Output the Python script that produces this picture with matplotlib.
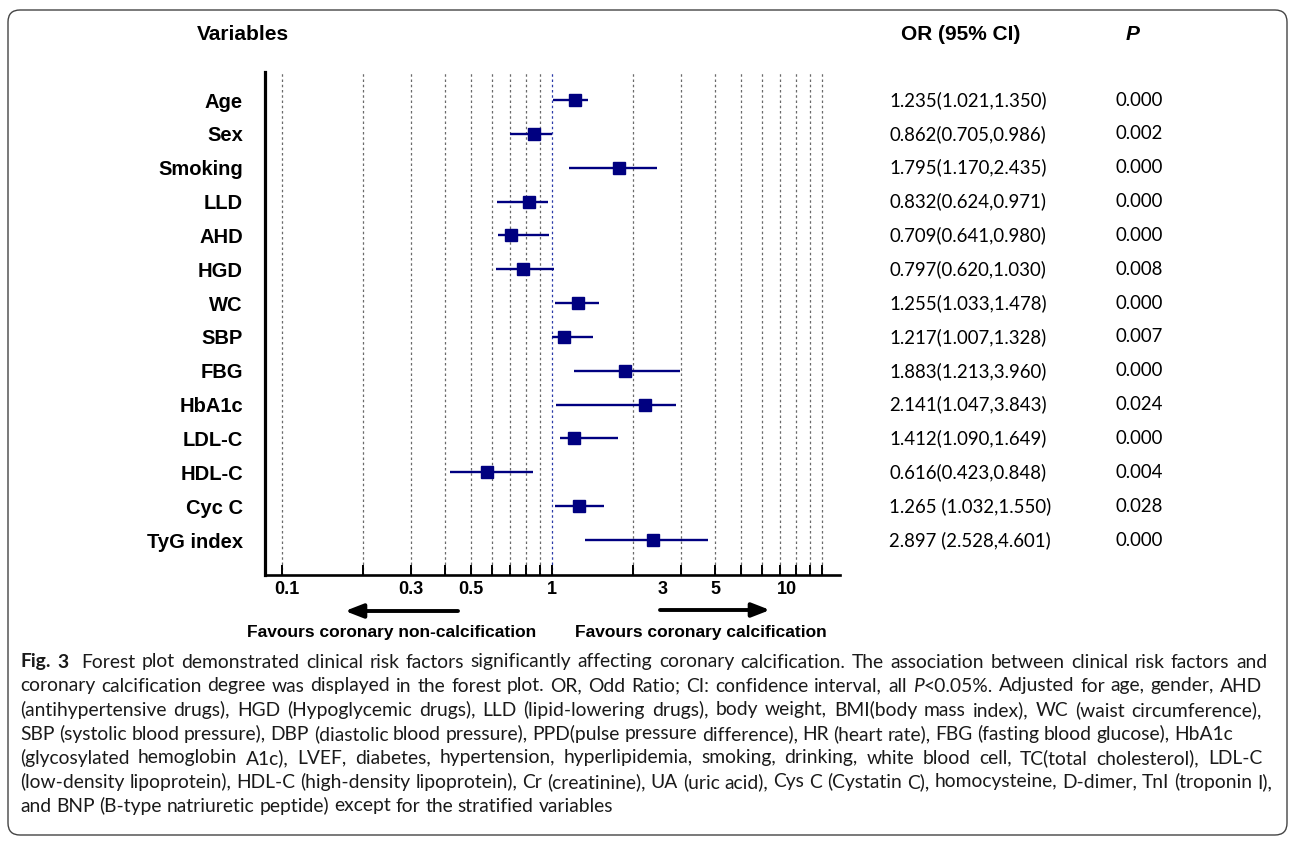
import matplotlib
matplotlib.use("Agg")
import matplotlib.pyplot as plt
import numpy as np
from matplotlib.patches import FancyBboxPatch
from matplotlib.ticker import NullLocator
from matplotlib.transforms import blended_transform_factory, offset_copy

# ---------------- data ----------------
variables = ["Age", "Sex", "Smoking", "LLD", "AHD", "HGD", "WC", "SBP", "FBG",
             "HbA1c", "LDL-C", "HDL-C", "Cyc C", "TyG index"]
# values as drawn in the picture (point estimate, lower, upper)
or_est = [1.22, 0.858, 1.77, 0.822, 0.703, 0.778, 1.244, 1.11, 1.87, 2.21, 1.208, 0.575, 1.26, 2.37]
ci_low = [1.01, 0.70, 1.158, 0.623, 0.629, 0.618, 1.023, 1.00, 1.208, 1.033, 1.074, 0.419, 1.023, 1.323]
ci_high = [1.36, 1.00, 2.456, 0.965, 0.971, 1.02, 1.493, 1.42, 2.99, 2.89, 1.763, 0.853, 1.557, 3.78]
or_text = ["1.235(1.021,1.350)", "0.862(0.705,0.986)", "1.795(1.170,2.435)",
           "0.832(0.624,0.971)", "0.709(0.641,0.980)", "0.797(0.620,1.030)",
           "1.255(1.033,1.478)", "1.217(1.007,1.328)", "1.883(1.213,3.960)",
           "2.141(1.047,3.843)", "1.412(1.090,1.649)", "0.616(0.423,0.848)",
           "1.265 (1.032,1.550)", "2.897 (2.528,4.601)"]
p_text = ["0.000", "0.002", "0.000", "0.000", "0.000", "0.008", "0.000",
          "0.007", "0.000", "0.024", "0.000", "0.004", "0.028", "0.000"]
grid_vals = [0.1, 0.2, 0.3, 0.4, 0.5, 0.6, 0.7, 0.8, 0.9, 1,
             2, 3, 4, 5, 6, 7, 8, 9, 10]
tick_vals = [0.1, 0.3, 0.5, 1, 3, 5, 10]
tick_labels = ["0.1", "0.3", "0.5", "1", "3", "5", "10"]

caption_lines = [
    [("Fig. 3", "bold"), ("  ", None), ("Forest plot demonstrated clinical risk factors significantly affecting coronary calcification. The association between clinical risk factors and", "normal")],
    [("coronary calcification degree was displayed in the forest plot. OR, Odd Ratio; CI: confidence interval, all", "normal"), (" ", None), ("P", "italic"), ("<0.05%. Adjusted for age, gender, AHD", "normal")],
    [("(antihypertensive drugs), HGD (Hypoglycemic drugs), LLD (lipid-lowering drugs), body weight, BMI(body mass index), WC (waist circumference),", "normal")],
    [("SBP (systolic blood pressure), DBP (diastolic blood pressure), PPD(pulse pressure difference), HR (heart rate), FBG (fasting blood glucose), HbA1c", "normal")],
    [("(glycosylated hemoglobin A1c), LVEF, diabetes, hypertension, hyperlipidemia, smoking, drinking, white blood cell, TC(total cholesterol), LDL-C", "normal")],
    [("(low-density lipoprotein), HDL-C (high-density lipoprotein), Cr (creatinine), UA (uric acid), Cys C (Cystatin C), homocysteine, D-dimer, TnI (troponin I),", "normal")],
    [("and BNP (B-type natriuretic peptide) except for the stratified variables", "normal")],
]
caption_right_px = [1267, 1262, 1262, 1233, 1262, 1272, None]

# ---------------- layout ----------------
W, H = 1295, 841
fig = plt.figure(figsize=(W / 100, H / 100), dpi=100)
renderer = fig.canvas.get_renderer()


def fx(px):
    return px / W


def fy(py):
    return 1 - py / H


ARIAL = "Liberation Sans"
MYRIAD = "Lato"
NAVY = "#000080"

ax = fig.add_axes([fx(265), fy(575), fx(840) - fx(265), fy(72) - fy(575)])
n = len(variables)
ypos = np.arange(n)[::-1]
step = (540 - 100) / (n - 1)
ax.set_ylim(-35 / step, (n - 1) + 28 / step)
ax.set_xscale("log")
ax.set_xlim(0.1 * 10 ** (-17 / 270), 10 ** ((840 - 552) / 270))

for v in grid_vals:
    ax.axvline(v, color="#2b3aa8" if v == 1 else "#6a6a6a", lw=0.9,
               ls=(0, (2, 2.2)), zorder=0)

ax.hlines(ypos, ci_low, ci_high, color=NAVY, lw=1.7, zorder=2)
ax.plot(or_est, ypos, "s", color=NAVY, ms=8.5, zorder=3)

for s in ["top", "right"]:
    ax.spines[s].set_visible(False)
ax.spines["left"].set_linewidth(2.3)
ax.spines["bottom"].set_linewidth(1.9)

ax.set_xticks(grid_vals)
ax.set_xticklabels([])
ax.xaxis.set_minor_locator(NullLocator())
ax.tick_params(axis="x", direction="in", length=7, width=1.4, color="black")

ax.set_yticks(ypos)
ax.set_yticklabels(variables, fontsize=14.5, fontweight="bold", family=ARIAL)
ax.tick_params(axis="y", length=0, pad=16)

# x tick labels (the drawing shifts the right-hand labels to the left)
label_shift = {"0.1": 5, "3": -18, "5": -25, "10": -35}
btrans = blended_transform_factory(ax.transData, ax.transAxes)
for v, lab in zip(tick_vals, tick_labels):
    tr = offset_copy(btrans, fig=fig, x=label_shift.get(lab, 0), y=0, units="dots")
    ax.text(v, -15 / 503, lab, transform=tr, ha="center", va="center",
            fontsize=13, fontweight="bold", family=ARIAL, clip_on=False)

# headers
fig.text(fx(243), fy(34), "Variables", ha="center", va="center",
         fontsize=15, fontweight="bold", family=ARIAL)
fig.text(fx(961), fy(34), "OR (95% CI)", ha="center", va="center",
         fontsize=15, fontweight="bold", family=ARIAL)
fig.text(fx(1133), fy(34), "P", ha="center", va="center",
         fontsize=15, fontweight="bold", style="italic", family=ARIAL)

# OR / P columns
ttrans = blended_transform_factory(fig.transFigure, ax.transData)
for i in range(n):
    ax.text(fx(889), ypos[i], or_text[i], transform=ttrans, ha="left", va="center",
            fontsize=13.4, family=MYRIAD, clip_on=False)
    ax.text(fx(1116), ypos[i], p_text[i], transform=ttrans, ha="left", va="center",
            fontsize=13.4, family=MYRIAD, clip_on=False)

# arrows and their labels
arrow_kw = dict(arrowstyle="-|>,head_length=0.9,head_width=0.35", lw=2.8,
                color="black", shrinkA=0, shrinkB=0, mutation_scale=12)
ax.annotate("", xy=(345, H - 611), xytext=(458, H - 611), xycoords="figure pixels",
            textcoords="figure pixels", arrowprops=arrow_kw)
ax.annotate("", xy=(770, H - 610), xytext=(660, H - 610), xycoords="figure pixels",
            textcoords="figure pixels", arrowprops=arrow_kw)
fig.text(fx(392), fy(633), "Favours coronary non-calcification", ha="center",
         va="center", fontsize=12.5, fontweight="bold", family=ARIAL)
fig.text(fx(701), fy(632), "Favours coronary calcification", ha="center",
         va="center", fontsize=12.5, fontweight="bold", family=ARIAL)


# ---------------- caption (justified) ----------------
def seg_props(style):
    if style == "bold":
        return dict(fontweight="bold")
    if style == "italic":
        return dict(style="italic")
    return {}


def text_width(s, size, **kw):
    t = fig.text(0, 0, s, fontsize=size, family=MYRIAD, **kw)
    w = t.get_window_extent(renderer).width
    t.remove()
    return w


def tokens_of(segs):
    toks = []  # (word, style, gap_units_before)
    pending = 0
    for txt, style in segs:
        if style is None:
            pending = len(txt)
            continue
        words = txt.split(" ")
        for j, w in enumerate(words):
            g = pending if j == 0 else 1
            if not toks:
                g = 0
            toks.append((w, style, g))
        pending = 0
    return toks


base = 12.0
space_base = text_width("a a", base) - text_width("aa", base)
scales = []
for segs, right in zip(caption_lines, caption_right_px):
    if right is None:
        continue
    toks = tokens_of(segs)
    nat = sum(text_width(w, base, **seg_props(s)) for w, s, g in toks)
    nat += space_base * sum(g for _, _, g in toks)
    scales.append((right - 20) / nat)
cap_size = base * min(scales)
space_w = text_width("a a", cap_size) - text_width("aa", cap_size)

for k, (segs, right) in enumerate(zip(caption_lines, caption_right_px)):
    toks = tokens_of(segs)
    widths = [text_width(w, cap_size, **seg_props(s)) for w, s, g in toks]
    gap_units = sum(g for _, _, g in toks)
    if right is None:
        gap = space_w
    else:
        gap = (right - 20 - sum(widths)) / gap_units
    x = 20
    y = 662 + 24 * k
    for (w, s, g), wd in zip(toks, widths):
        x += g * gap
        fig.text(fx(x), fy(y), w, ha="left", va="center", fontsize=cap_size,
                 family=MYRIAD, color="#1a1a1a", **seg_props(s))
        x += wd

# rounded frame
frame = FancyBboxPatch((8 / 100, (H - 835) / 100), 1279 / 100, 825 / 100,
                       boxstyle="round,pad=0,rounding_size=0.12",
                       transform=fig.dpi_scale_trans, fill=False,
                       edgecolor="#444444", lw=1.0)
fig.add_artist(frame)

fig.savefig("out.png", dpi=100)
